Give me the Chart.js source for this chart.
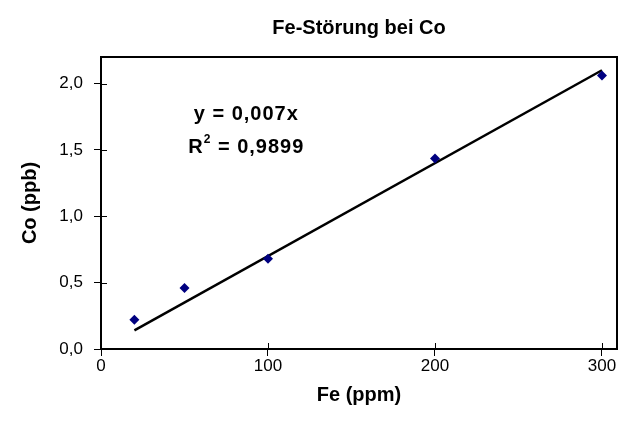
<!DOCTYPE html>
<html>
<head>
<meta charset="utf-8">
<script src="https://cdn.jsdelivr.net/npm/chart.js@4.4.0/dist/chart.umd.min.js"></script>
<style>
    html, body { margin: 0; padding: 0; background: #fff; }
</style>
</head>
<body>
<canvas id="chart" width="631" height="432"></canvas>
<script>
// Messwerte
const feValues = [20, 50, 100, 200, 300];
const coValues = [0.22, 0.46, 0.68, 1.435, 2.06];
// Trendlinie, Endpunkte
const trendX = [20, 300];
const trendY = [0.14, 2.10];
// Achsenbeschriftung
const xTicks = [0, 100, 200, 300];
const yTicks = [0, 0.5, 1.0, 1.5, 2.0];
const chartTitle = 'Fe-Störung bei Co';
const eqText = 'y = 0,007x';
const r2Text = ' = 0,9899';

const FONT = '"Liberation Sans", Arial, sans-serif';

// Rahmen, Innen-Ticks, Titel und Gleichung
const excelLook = {
    id: 'excelLook',
    afterDraw(chart) {
        const { ctx, chartArea: a, scales } = chart;
        ctx.save();
        ctx.strokeStyle = '#000';
        ctx.lineWidth = 2;
        ctx.strokeRect(a.left, a.top, a.right - a.left, a.bottom - a.top);

        // kurze Ticks nach innen
        ctx.lineWidth = 1;
        ctx.beginPath();
        scales.x.ticks.forEach(t => {
            const px = Math.round(scales.x.getPixelForValue(t.value)) + 0.5;
            ctx.moveTo(px, a.bottom);
            ctx.lineTo(px, a.bottom - 6);
        });
        scales.y.ticks.forEach(t => {
            const py = Math.round(scales.y.getPixelForValue(t.value)) + 0.5;
            ctx.moveTo(a.left, py);
            ctx.lineTo(a.left + 6, py);
        });
        ctx.stroke();

        // Titel über der Zeichenfläche
        ctx.fillStyle = '#000';
        ctx.textAlign = 'center';
        ctx.textBaseline = 'middle';
        ctx.font = 'bold 20px ' + FONT;
        ctx.fillText(chartTitle, (a.left + a.right) / 2, 28);

        // Gleichung
        ctx.letterSpacing = '1px';
        const cx = scales.x.getPixelForValue(87);
        ctx.font = 'bold 20px ' + FONT;
        ctx.fillText(eqText, cx, scales.y.getPixelForValue(1.77));
        const y2 = scales.y.getPixelForValue(1.52);
        const wR = ctx.measureText('R').width;
        const wRest = ctx.measureText(r2Text).width;
        ctx.font = 'bold 12px ' + FONT;
        const wSup = ctx.measureText('2').width;
        const x0 = cx - (wR + wSup + wRest) / 2;
        ctx.textAlign = 'left';
        ctx.font = 'bold 20px ' + FONT;
        ctx.fillText('R', x0, y2);
        ctx.font = 'bold 12px ' + FONT;
        ctx.fillText('2', x0 + wR, y2 - 8);
        ctx.font = 'bold 20px ' + FONT;
        ctx.fillText(r2Text, x0 + wR + wSup, y2);
        ctx.restore();
    }
};

new Chart(document.getElementById('chart'), {
    type: 'scatter',
    data: {
        datasets: [{
            label: 'Co',
            data: feValues.map((x, i) => ({ x: x, y: coValues[i] })),
            pointStyle: 'rectRot',
            pointRadius: 5,
            pointBackgroundColor: '#000080',
            pointBorderColor: '#000080',
            pointBorderWidth: 0,
            order: 1
        }, {
            type: 'line',
            label: 'Trend',
            data: trendX.map((x, i) => ({ x: x, y: trendY[i] })),
            borderColor: '#000',
            borderWidth: 2.5,
            pointRadius: 0,
            fill: false,
            order: 2
        }]
    },
    options: {
        responsive: false,
        animation: false,
        layout: { padding: { top: 57, right: 14, left: 0, bottom: 0 } },
        plugins: {
            legend: { display: false },
            tooltip: { enabled: false },
            title: { display: false }
        },
        scales: {
            x: {
                type: 'linear',
                min: 0,
                max: 309,
                afterFit: s => { s.height = 83; },
                afterBuildTicks: s => { s.ticks = xTicks.map(v => ({ value: v })); },
                grid: { drawOnChartArea: false, tickLength: 7, color: '#000', tickWidth: 1 },
                border: { color: '#000', width: 2 },
                ticks: {
                    color: '#000',
                    padding: 0,
                    font: { family: FONT, size: 17 },
                    callback: v => String(v)
                },
                title: {
                    display: true,
                    text: 'Fe (ppm)',
                    color: '#000',
                    font: { family: FONT, size: 20, weight: 'bold' },
                    padding: { top: 0, bottom: 25 }
                }
            },
            y: {
                min: 0,
                max: 2.2,
                afterFit: s => { s.width = 101; },
                afterBuildTicks: s => { s.ticks = yTicks.map(v => ({ value: v })); },
                grid: { drawOnChartArea: false, tickLength: 7, color: '#000', tickWidth: 1 },
                border: { color: '#000', width: 2 },
                ticks: {
                    color: '#000',
                    padding: 11,
                    font: { family: FONT, size: 17 },
                    callback: v => v.toFixed(1).replace('.', ',')
                },
                title: {
                    display: true,
                    text: 'Co (ppb)',
                    color: '#000',
                    font: { family: FONT, size: 20, weight: 'bold' },
                    padding: { top: 18, bottom: 0 }
                }
            }
        }
    },
    plugins: [excelLook]
});
</script>
</body>
</html>
